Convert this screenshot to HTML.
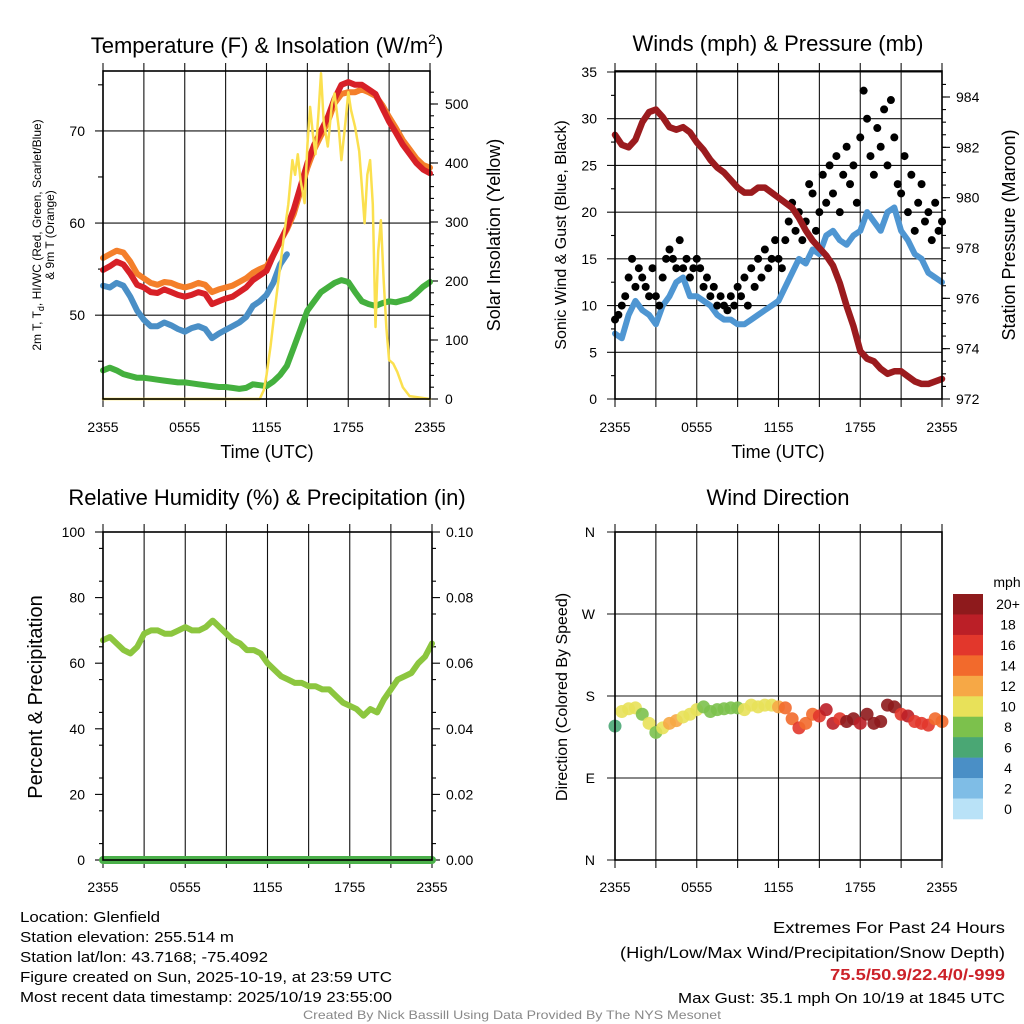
<!DOCTYPE html>
<html><head><meta charset="utf-8"><style>
html,body{margin:0;padding:0;background:#fff;}
svg{display:block;font-family:"Liberation Sans",Arial,sans-serif;}
</style></head><body>
<svg id="fig" width="1024" height="1024" viewBox="0 0 1024 1024" xmlns="http://www.w3.org/2000/svg">
<rect width="1024" height="1024" fill="#fff"/>
<text x="267" y="53" font-size="22" text-anchor="middle">Temperature (F) &amp; Insolation (W/m<tspan dy="-9" font-size="14">2</tspan><tspan dy="9">)</tspan></text>
<text x="778" y="51" font-size="22" text-anchor="middle">Winds (mph) &amp; Pressure (mb)</text>
<text x="267" y="505" font-size="22" text-anchor="middle">Relative Humidity (%) &amp; Precipitation (in)</text>
<text x="778" y="505" font-size="22" text-anchor="middle">Wind Direction</text>
<text x="267" y="458" font-size="18" text-anchor="middle">Time (UTC)</text>
<text x="778" y="458" font-size="18" text-anchor="middle">Time (UTC)</text>
<text transform="translate(41,235) rotate(-90)" font-size="12" text-anchor="middle">2m T, T<tspan dy="3" font-size="9">d</tspan><tspan dy="-3">, HI/WC (Red, Green, Scarlet/Blue)</tspan></text>
<text transform="translate(54,235) rotate(-90)" font-size="12" text-anchor="middle">&amp; 9m T (Orange)</text>
<text transform="translate(500,235) rotate(-90)" font-size="18" text-anchor="middle">Solar Insolation (Yellow)</text>
<text transform="translate(566,235) rotate(-90)" font-size="16" text-anchor="middle">Sonic Wind &amp; Gust (Blue, Black)</text>
<text transform="translate(1015,235) rotate(-90)" font-size="18" text-anchor="middle">Station Pressure (Maroon)</text>
<text transform="translate(42,697) rotate(-90)" font-size="20" text-anchor="middle">Percent &amp; Precipitation</text>
<text transform="translate(567,697) rotate(-90)" font-size="16" text-anchor="middle">Direction (Colored By Speed)</text>
<g id="layers"></g>
<g font-size="15">
<text x="20" y="922" textLength="140" lengthAdjust="spacingAndGlyphs">Location: Glenfield</text>
<text x="20" y="942" textLength="214" lengthAdjust="spacingAndGlyphs">Station elevation: 255.514 m</text>
<text x="20" y="962" textLength="248" lengthAdjust="spacingAndGlyphs">Station lat/lon: 43.7168; -75.4092</text>
<text x="20" y="982" textLength="372" lengthAdjust="spacingAndGlyphs">Figure created on Sun, 2025-10-19, at 23:59 UTC</text>
<text x="20" y="1002" textLength="372" lengthAdjust="spacingAndGlyphs">Most recent data timestamp: 2025/10/19 23:55:00</text>
</g>
<g font-size="16">
<text x="773" y="933" textLength="232" lengthAdjust="spacingAndGlyphs">Extremes For Past 24 Hours</text>
<text x="620" y="958" textLength="385" lengthAdjust="spacingAndGlyphs">(High/Low/Max Wind/Precipitation/Snow Depth)</text>
<text x="830" y="980" textLength="175" lengthAdjust="spacingAndGlyphs" fill="#cc2229" font-weight="bold">75.5/50.9/22.4/0/-999</text>
<text x="678" y="1003" textLength="327" lengthAdjust="spacingAndGlyphs" font-size="15">Max Gust: 35.1 mph On 10/19 at 1845 UTC</text>
</g>
<text x="303" y="1019" font-size="12" fill="#888" textLength="418" lengthAdjust="spacingAndGlyphs">Created By Nick Bassill Using Data Provided By The NYS Mesonet</text>
</svg>
<script>
const hours = [0,0.5,1,1.5,2,2.5,3,3.5,4,4.5,5,5.5,6,6.5,7,7.5,8,8.5,9,9.5,10,10.5,11,11.5,12,12.5,13,13.5,14,14.5,15,15.5,16,16.5,17,17.5,18,18.5,19,19.5,20,20.5,21,21.5,22,22.5,23,23.5,24];
const timeLabels = ["2355","","0555","","1155","","1755","","2355"];
const temp2m = [54.9,55.3,55.8,55.5,54.5,53.3,53.0,52.5,52.4,52.8,52.5,52.2,52.0,52.2,52.5,52.3,51.2,51.5,51.8,52.0,52.5,53.0,53.8,54.3,54.8,56.5,58.0,59.5,61.5,64,66.5,68.5,70,71.5,73.5,75,75.3,75,75,74.5,74,72.5,71,69.8,68.5,67.5,66.5,65.8,65.4];
const temp9m = [56.2,56.6,57,56.8,55.8,54.5,54.0,53.5,53.3,53.6,53.5,53.2,53.0,53.2,53.5,53.3,52.5,52.8,53.0,53.2,53.6,54.0,54.6,55,55.3,56.5,58,59.3,61,63.5,66,68,69.5,71,73,74,74.2,74.2,74.5,74.2,73.8,72.8,71.5,70.3,69,68,67,66.3,66];
const heatIndexWindChill = [53.2,53.0,53.5,53.2,52,50.5,49.5,48.8,48.8,49.2,48.9,48.5,48.2,48.6,48.8,48.5,47.5,48,48.4,48.8,49.2,49.8,51,51.5,52.2,53.5,55.5,56.6];
const dewpoint = [44.0,44.3,44.0,43.6,43.4,43.2,43.2,43.1,43.0,42.9,42.8,42.7,42.7,42.6,42.5,42.4,42.3,42.2,42.2,42.1,42.0,42.1,42.5,42.4,42.3,42.8,43.5,44.5,46.5,48.5,50.5,51.5,52.5,53.0,53.5,53.8,53.6,52.5,51.5,51.2,51.0,51.3,51.5,51.4,51.6,51.8,52.4,53.1,53.6];
const solarTimes = [0,11.5,11.8,12,12.3,12.6,13,13.3,13.6,13.9,14.1,14.3,14.5,14.8,15.0,15.2,15.4,15.6,15.8,16.0,16.2,16.5,16.8,17.0,17.3,17.5,17.8,18.0,18.2,18.5,18.8,19.0,19.2,19.4,19.6,19.8,20.0,20.2,20.4,20.6,20.8,21.0,21.3,21.6,22.0,22.5,24];
const solarValues = [0,0,15,40,90,150,224,280,330,405,380,415,370,332,430,495,450,415,480,552,470,428,500,518,460,405,470,520,490,461,420,360,298,380,405,330,122,250,303,200,120,66,60,46,20,5,0];
const windSpeed = [7,6.5,9,10.5,9.5,9,8,10,11,12.5,13,11,11,10.5,10,9,8.5,8.5,8,8,8.5,9,9.5,10,10.5,12,13.5,15,14.5,16,15.5,17.5,18,17,16.5,17.5,18,20,19,18,20,20.5,18,17,15.5,15,13.5,13,12.5];
const windGust = [8.5,9,10,11,13,15,12,14,13,12,11,14,11,10,13,15,16,15,14,17,14,15,13,14,15,14,12,13,11,12,10,11,10,9.5,11,10,12,11,13,10,14,12,15,13,16,14,15,17,15,14,17,19,21,18,20,17,19,23,22,18,20,24,21,25,22,26,20,24,27,23,25,21,28,33,30,26,24,29,27,31,25,32,28,23,22,26,20,24,18,21,23,19,20,17,21,18,19];
const pressure = [982.5,982.1,982.0,982.3,983.0,983.4,983.5,983.2,982.8,982.7,982.8,982.6,982.2,981.9,981.5,981.2,981.0,980.7,980.4,980.2,980.2,980.4,980.4,980.2,980.0,979.8,979.6,979.2,978.7,978.3,978.0,977.7,977.3,976.6,975.7,974.9,973.9,973.6,973.5,973.2,973.0,973.1,973.1,972.9,972.7,972.6,972.6,972.7,972.8];
const relHumidity = [67,68,66,64,63,65,69,70,70,69,69,70,71,70,70,71,73,71,69,67,66,64,64,63,60,58,56,55,54,54,53,53,52,52,50,48,47,46,44,46,45,49,52,55,56,57,60,62,66];
const precip = [0,0,0,0,0,0,0,0,0,0,0,0,0,0,0,0,0,0,0,0,0,0,0,0,0,0,0,0,0,0,0,0,0,0,0,0,0,0,0,0,0,0,0,0,0,0,0,0,0];
const windDir = [147,163,166,167,160,150,140,145,150,153,157,160,165,168,163,165,166,167,167,165,170,168,170,170,168,167,155,145,150,160,158,165,150,155,152,155,150,160,150,152,170,168,160,158,152,150,148,155,152];
const dirSpeed = [6,10,10,10,8,10,8,10,12,12,10,10,10,8,8,8,8,8,8,10,10,10,10,10,12,14,14,16,14,14,16,18,18,16,20,20,18,20,20,20,20,20,16,18,16,16,16,14,14];
const speedBins = ["0","2","4","6","8","10","12","14","16","18","20+"];
const binColors = ["#b9e2f7","#7fbde6","#4a8fc6","#4aa774","#7cc14c","#e8e159","#f6a846","#f26a2c","#e2372c","#bb1f27","#8e1a1c"];
const tempTicks = [50,60,70];
const solarTicks = [0,100,200,300,400,500];
const windTicks = [0,5,10,15,20,25,30,35];
const pressTicks = [972,974,976,978,980,982,984];
const rhTicks = [0,20,40,60,80,100];
const precipTicks = ["0.00","0.02","0.04","0.06","0.08","0.10"];
const dirTicks = ["N","E","S","W","N"];

const NS="http://www.w3.org/2000/svg";
const root=document.getElementById('layers');
function mk(tag,attrs,parent){const e=document.createElementNS(NS,tag);for(const k in attrs)e.setAttribute(k,attrs[k]);(parent||root).appendChild(e);return e;}
function lin(d0,d1,r0,r1){return v=>r0+(v-d0)*(r1-r0)/(d1-d0);}

function panel(name){
  const g=mk('g',{});
  
  
  return g;
}
function xAxis(g,L,R,T,B,xs,ly){
  for(let i=0;i<=8;i++){
    const x=xs(i*3);
    const gl=mk('line',{x1:x,x2:x,y1:T-8,y2:B+8,stroke:'#111','stroke-width':1.1},g);
    
    
    if(timeLabels[i]){
      const t=mk('text',{x:x,y:ly,'font-size':14,'text-anchor':'middle'},g);
      t.textContent=timeLabels[i];
      
      
    }
  }
}
function frame(g,L,T,R,B){
  const f=mk('rect',{x:L,y:T,width:R-L,height:B-T,fill:'none',stroke:'#000','stroke-width':1.6},g);
  
  
}
function path(g,xsArr,ysArr,xs,ys,color,w,name){
  let d='';
  for(let i=0;i<ysArr.length;i++){d+=(i?'L':'M')+xs(xsArr[i]).toFixed(1)+','+ys(ysArr[i]).toFixed(1);}
  const p=mk('path',{d:d,fill:'none',stroke:color,'stroke-width':w,'stroke-linejoin':'round','stroke-linecap':'round'},g);
  
  
  return p;
}
function yLabel(g,x,y,txt,anchor,name){
  const t=mk('text',{x:x,y:y+5,'font-size':14,'text-anchor':anchor},g);
  t.textContent=txt;
  
  
}
function tick(g,x1,y,x2){mk('line',{x1:x1,x2:x2,y1:y,y2:y,stroke:'#000','stroke-width':1.1},g);}

(function(){
  const L=103,R=430,T=71,B=399;
  const g=panel('temperature-panel');
  const xs=lin(0,24,L,R), ys=lin(40.9,76.5,B,T), ysol=lin(0,500,B,104);
  xAxis(g,L,R,T,B,xs,432);
  tempTicks.forEach(v=>{mk('line',{x1:L-8,x2:R,y1:ys(v),y2:ys(v),stroke:'#111','stroke-width':1.1},g);yLabel(g,L-18,ys(v),String(v),'end','temp-y-tick-label');});
  [45,55,65,75].forEach(v=>tick(g,L-5,ys(v),L));
  solarTicks.forEach(v=>{tick(g,R,ysol(v),R+8);yLabel(g,R+15,ysol(v),String(v),'start','solar-y-tick-label');});
  for(let v=20;v<540;v+=20)tick(g,R,ysol(v),R+4);
  path(g,hours,dewpoint,xs,ys,'#44b03e',6,'dewpoint-line');
  path(g,hours.slice(0,heatIndexWindChill.length),heatIndexWindChill,xs,ys,'#4a8fc6',6,'heat-index-wind-chill-line');
  path(g,hours,temp9m,xs,ys,'#f47f2a',6,'temp-9m-line');
  path(g,hours,temp2m,xs,ys,'#d72027',6,'temp-2m-line');
  path(g,solarTimes,solarValues,xs,ysol,'#fbe04f',2.5,'solar-insolation-line');
  frame(g,L,T,R,B);
})();

(function(){
  const L=615,R=942,T=71,B=399;
  const g=panel('wind-pressure-panel');
  const xs=lin(0,24,L,R), ys=lin(0,35,B,T+1), yp=lin(972,984,B,97);
  xAxis(g,L,R,T,B,xs,432);
  windTicks.forEach(v=>{mk('line',{x1:L-8,x2:R,y1:ys(v),y2:ys(v),stroke:'#111','stroke-width':1.1},g);yLabel(g,L-18,ys(v),String(v),'end','wind-y-tick-label');});
  for(let v=2.5;v<35;v+=5)tick(g,L-4,ys(v),L);
  pressTicks.forEach(v=>{tick(g,R,yp(v),R+8);yLabel(g,R+14,yp(v),String(v),'start','pressure-y-tick-label');});
  for(let v=972.5;v<984.6;v+=0.5)tick(g,R,yp(v),R+4);
  path(g,hours,windSpeed,xs,ys,'#4f96d2',6,'sonic-wind-line');
  const gstep=24/(windGust.length-1);
  windGust.forEach((v,i)=>{
    const c=mk('circle',{cx:xs(i*gstep),cy:ys(v),r:4,fill:'#000'},g);
    
    
  });
  path(g,hours,pressure,xs,yp,'#9b1b1e',6.5,'pressure-line');
  frame(g,L,T,R,B);
})();

(function(){
  const L=103,R=432,T=532,B=860;
  const g=panel('humidity-panel');
  const xs=lin(0,24,L,R), ys=lin(0,100,B,T);
  xAxis(g,L,R,T,B,xs,892);
  rhTicks.forEach((v,i)=>{tick(g,L-8,ys(v),L);yLabel(g,L-18,ys(v),String(v),'end','rh-y-tick-label');tick(g,R,ys(v),R+8);yLabel(g,R+14,ys(v),precipTicks[i],'start','precip-y-tick-label');});
  for(let v=5;v<100;v+=10){tick(g,L-4,ys(v),L);tick(g,R,ys(v),R+4);}
  path(g,hours,relHumidity,xs,ys,'#8cc63f',6,'relative-humidity-line');
  const yp=lin(0,0.1,B,T);
  path(g,hours,precip,xs,yp,'#4bb04a',8,'precipitation-line');
  frame(g,L,T,R,B);
})();

(function(){
  const L=615,R=942,T=532,B=860;
  const g=panel('wind-direction-panel');
  const xs=lin(0,24,L,R), ys=lin(0,360,B,T);
  xAxis(g,L,R,T,B,xs,892);
  dirTicks.forEach((v,i)=>{mk('line',{x1:L-8,x2:R,y1:ys(i*90),y2:ys(i*90),stroke:'#111','stroke-width':1.1},g);yLabel(g,L-20,ys(i*90),v,'end','direction-y-tick-label');});
  windDir.forEach((d,i)=>{
    const bin=Math.min(10,Math.floor(dirSpeed[i]/2));
    const c=mk('circle',{cx:xs(hours[i]),cy:ys(d),r:6.5,fill:binColors[bin],'fill-opacity':0.9},g);
    
    
  });
  frame(g,L,T,R,B);
  const cb=mk('g',{});
  
  
  const t=mk('text',{x:1007,y:587,'font-size':14,'text-anchor':'middle'},cb);
  t.textContent='mph';
  
  
  const h=(819-594)/11;
  for(let i=0;i<11;i++){
    const k=10-i, y=594+i*h;
    const r=mk('rect',{x:953,y:y,width:30,height:h+0.3,fill:binColors[k]},cb);
    
    
    const l=mk('text',{x:1008,y:y+h/2+5,'font-size':14,'text-anchor':'middle'},cb);
    l.textContent=speedBins[k];
    
    
  }
})();
</script>
</body></html>
